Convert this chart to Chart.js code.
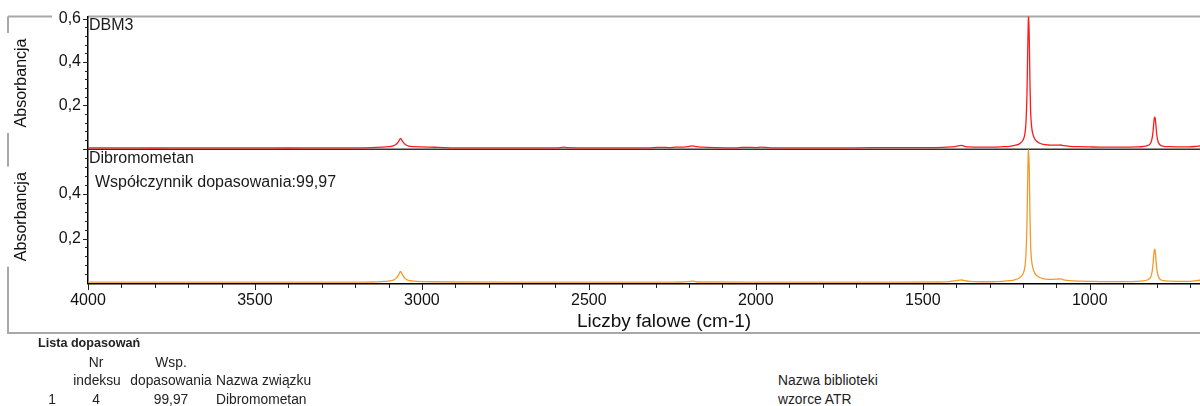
<!DOCTYPE html>
<html lang="pl">
<head>
<meta charset="utf-8">
<title>DBM3 - Dibromometan</title>
<script src="https://cdn.jsdelivr.net/npm/chart.js@4.4.1/dist/chart.umd.min.js"></script>
<style>
  html, body { margin: 0; padding: 0; background: #fff; }
  body { width: 1200px; height: 406px; overflow: hidden; position: relative;
         font-family: "Liberation Sans", Arial, sans-serif; color: #1a1a1a; }
  #chartWidma { position: absolute; left: 0; top: 0; }
  .lbl { position: absolute; font-size: 16px; line-height: 18px; white-space: nowrap; }
  .tab { position: absolute; font-size: 13.8px; line-height: 15px; white-space: nowrap; color: #222; }
  .c { transform: translateX(-50%); }
  .b { font-weight: bold; font-size: 12.6px; }
</style>
</head>
<body>
<canvas id="chartWidma" width="1240" height="340"></canvas>

<div class="lbl" style="left:89px;top:16px">DBM3</div>
<div class="lbl" style="left:89px;top:149px">Dibromometan</div>
<div class="lbl" style="left:95px;top:173px">Współczynnik dopasowania:99,97</div>

<div class="tab b" style="left:38px;top:336px">Lista dopasowań</div>
<div class="tab c" style="left:96px;top:355px">Nr</div>
<div class="tab c" style="left:171px;top:355px">Wsp.</div>
<div class="tab c" style="left:97px;top:373px">indeksu</div>
<div class="tab c" style="left:171px;top:373px">dopasowania</div>
<div class="tab" style="left:216px;top:373px">Nazwa związku</div>
<div class="tab" style="left:778px;top:373px">Nazwa biblioteki</div>
<div class="tab c" style="left:52px;top:392px">1</div>
<div class="tab c" style="left:96px;top:392px">4</div>
<div class="tab c" style="left:171px;top:392px">99,97</div>
<div class="tab" style="left:216px;top:392px">Dibromometan</div>
<div class="tab" style="left:778px;top:392px">wzorce ATR</div>

<script>
// === Dane widma ===
// DBM3 (pomiar)
const wnPomiar = [4000, 3900, 3800, 3700, 3600, 3500, 3400, 3300, 3200, 3150, 3120, 3100, 3088, 3078, 3070, 3064, 3058, 3050, 3040, 3025,
  3000, 2975, 2950, 2900, 2800, 2700, 2600, 2585, 2575, 2565, 2500, 2400, 2320, 2295, 2280, 2260, 2240, 2215, 2200, 2189,
  2178, 2160, 2120, 2060, 2040, 2020, 2000, 1985, 1970, 1950, 1900, 1800, 1700, 1600, 1500, 1440, 1415, 1400, 1390, 1383,
  1375, 1360, 1330, 1290, 1260, 1240, 1225, 1212, 1204, 1198, 1194, 1191, 1188, 1186, 1184, 1183, 1181, 1179, 1177, 1174,
  1170, 1165, 1158, 1150, 1140, 1125, 1110, 1098, 1088, 1078, 1060, 1030, 1000, 950, 900, 860, 840, 828, 820, 815,
  811, 808, 806, 804, 802, 799, 795, 790, 780, 760, 730, 700, 680, 660, 620, 580, 550];
const absPomiar = [0.003, 0.003, 0.002, 0.003, 0.003, 0.003, 0.002, 0.003, 0.003, 0.004, 0.006, 0.008, 0.011, 0.018, 0.032, 0.046, 0.033, 0.018, 0.011, 0.008,
  0.007, 0.006, 0.005, 0.003, 0.003, 0.003, 0.003, 0.004, 0.006, 0.004, 0.003, 0.003, 0.003, 0.005, 0.005, 0.004, 0.006, 0.006, 0.009, 0.012,
  0.008, 0.006, 0.004, 0.003, 0.005, 0.005, 0.004, 0.006, 0.005, 0.003, 0.003, 0.003, 0.003, 0.004, 0.004, 0.005, 0.007, 0.010, 0.013, 0.014,
  0.010, 0.007, 0.006, 0.006, 0.008, 0.010, 0.014, 0.020, 0.030, 0.045, 0.070, 0.120, 0.250, 0.430, 0.590, 0.620, 0.500, 0.300, 0.170, 0.100,
  0.065, 0.045, 0.032, 0.024, 0.019, 0.016, 0.015, 0.015, 0.016, 0.013, 0.010, 0.008, 0.007, 0.006, 0.006, 0.007, 0.009, 0.013, 0.020, 0.035,
  0.070, 0.120, 0.145, 0.140, 0.110, 0.060, 0.030, 0.017, 0.010, 0.008, 0.007, 0.007, 0.010, 0.014, 0.020, 0.025, 0.030];

// Dibromometan (wzorzec z biblioteki)
const wnWzorzec = [4000, 3800, 3600, 3400, 3200, 3150, 3120, 3100, 3088, 3078, 3070, 3064, 3058, 3050, 3040, 3025, 3000, 2960, 2900, 2700,
  2500, 2300, 2220, 2200, 2189, 2178, 2150, 2000, 1800, 1600, 1450, 1420, 1400, 1390, 1383, 1375, 1360, 1330, 1290, 1260,
  1240, 1225, 1212, 1204, 1198, 1194, 1191, 1188, 1186, 1184, 1183, 1181, 1179, 1177, 1174, 1170, 1165, 1158, 1150, 1140,
  1125, 1110, 1098, 1088, 1078, 1060, 1030, 1000, 950, 900, 860, 840, 828, 820, 815, 811, 808, 806, 804, 802,
  799, 795, 790, 780, 760, 730, 700, 680, 660, 620, 580, 550];
const absWzorzec = [0.004, 0.004, 0.004, 0.004, 0.004, 0.005, 0.007, 0.009, 0.012, 0.020, 0.036, 0.052, 0.037, 0.020, 0.012, 0.009, 0.007, 0.006, 0.005, 0.004,
  0.004, 0.004, 0.005, 0.007, 0.009, 0.006, 0.005, 0.004, 0.004, 0.004, 0.005, 0.007, 0.011, 0.013, 0.014, 0.011, 0.008, 0.006, 0.006, 0.008,
  0.011, 0.015, 0.022, 0.032, 0.048, 0.075, 0.130, 0.270, 0.450, 0.590, 0.600, 0.500, 0.300, 0.170, 0.100, 0.066, 0.046, 0.033, 0.025, 0.020,
  0.017, 0.017, 0.018, 0.019, 0.015, 0.011, 0.009, 0.008, 0.007, 0.007, 0.008, 0.010, 0.014, 0.022, 0.038, 0.075, 0.130, 0.152, 0.145, 0.110,
  0.062, 0.032, 0.018, 0.011, 0.009, 0.008, 0.008, 0.011, 0.015, 0.020, 0.025, 0.030];

// === Osie ===
const xTickLabels = [4000, 3500, 3000, 2500, 2000, 1500, 1000];
const xTicks = [];
for (let v = 4000; v >= 600; v -= 100) xTicks.push(v);
const yTicks = [0.04, 0.08, 0.12, 0.16, 0.2, 0.24, 0.28, 0.32, 0.36, 0.4, 0.44, 0.48, 0.52, 0.56, 0.6];
const yTopLabels = [0.2, 0.4, 0.6];
const yBotLabels = [0.2, 0.4];

const FONT = "'Liberation Sans', Arial, sans-serif";
const near = (list, v) => list.some(t => Math.abs(t - v) < 1e-6);
const fmt = v => v.toFixed(1).replace(".", ",");

document.addEventListener("DOMContentLoaded", function () {
  Chart.defaults.font.family = FONT;
  Chart.defaults.font.size = 16;
  Chart.defaults.color = "#111";

  // ramka, przerwy pod opisami osi, linia rozdzielająca i znaczniki osi
  const ramka = {
    id: "ramka",
    beforeDraw(chart) {
      const { ctx, chartArea, scales } = chart;
      ctx.save();
      ctx.fillStyle = "#fff";
      ctx.fillRect(0, 0, chart.width, chart.height);
      ctx.strokeStyle = "#a8a8a8";
      ctx.lineWidth = 2;
      ctx.beginPath();
      ctx.moveTo(8, chartArea.top);
      ctx.lineTo(52, chartArea.top);
      ctx.moveTo(chartArea.left, chartArea.top);
      ctx.lineTo(chart.width, chartArea.top);
      ctx.moveTo(8, chartArea.top);
      ctx.lineTo(8, 333);
      ctx.lineTo(chart.width, 333);
      ctx.stroke();
      ctx.fillStyle = "#fff";
      ["yTop", "yBot"].forEach(id => {
        const s = scales[id];
        const mid = (s.top + s.bottom) / 2;
        ctx.fillRect(3, mid - 50, 30, 100);
      });
      ctx.restore();
    },
    beforeDatasetsDraw(chart) {
      const { ctx, chartArea, scales } = chart;
      ctx.save();
      ctx.strokeStyle = "#333";
      ctx.lineWidth = 1.5;
      ctx.beginPath();
      ctx.moveTo(chartArea.left, scales.yTop.bottom);
      ctx.lineTo(chartArea.right, scales.yTop.bottom);
      ctx.stroke();

      ctx.strokeStyle = "#222";
      ctx.lineWidth = 1;
      ctx.beginPath();
      const x = scales.x;
      x.ticks.forEach(t => {
        const px = Math.round(x.getPixelForValue(t.value)) + 0.5;
        const len = near(xTickLabels, t.value) ? 6 : 4;
        ctx.moveTo(px, x.top);
        ctx.lineTo(px, x.top + len);
      });
      [scales.yTop, scales.yBot].forEach(s => {
        s.ticks.forEach(t => {
          const py = Math.round(s.getPixelForValue(t.value)) + 0.5;
          const len = near([0.2, 0.4, 0.6], t.value) ? 5 : 3;
          ctx.moveTo(s.right, py);
          ctx.lineTo(s.right - len, py);
        });
      });
      ctx.stroke();
      ctx.restore();
    }
  };

  const osY = (labels, min, max, weight) => ({
    type: "linear",
    position: "left",
    stack: "panele",
    stackWeight: weight,
    min: min,
    max: max,
    afterBuildTicks: s => { s.ticks = yTicks.map(v => ({ value: v })); },
    afterFit: s => { s.width = 80; },
    grid: { display: false, drawTicks: false },
    border: { color: "#000", width: 1.5 },
    ticks: {
      padding: 7,
      autoSkip: false,
      callback: v => (near(labels, v) ? fmt(v) : "")
    },
    title: { display: true, text: "Absorbancja", padding: { top: 4, bottom: 0 } }
  });

  const ctxWidmo = document.getElementById("chartWidma");
  new Chart(ctxWidmo, {
    type: "line",
    data: {
      datasets: [
        {
          label: "DBM3",
          data: wnPomiar.map((w, i) => ({ x: w, y: absPomiar[i] })),
          yAxisID: "yTop",
          borderColor: "#ff1a1a",
          borderWidth: 1.3,
          pointRadius: 0,
          cubicInterpolationMode: "monotone",
          fill: false
        },
        {
          label: "Dibromometan",
          data: wnWzorzec.map((w, i) => ({ x: w, y: absWzorzec[i] })),
          yAxisID: "yBot",
          borderColor: "#f39a2c",
          borderWidth: 1.3,
          pointRadius: 0,
          cubicInterpolationMode: "monotone",
          fill: false
        }
      ]
    },
    options: {
      responsive: false,
      animation: false,
      layout: { padding: { left: 8, top: 14, right: 0, bottom: 6 } },
      plugins: {
        legend: { display: false },
        tooltip: { enabled: false }
      },
      scales: {
        x: {
          type: "linear",
          reverse: true,
          min: 550,
          max: 4000,
          afterBuildTicks: s => { s.ticks = xTicks.map(v => ({ value: v })); },
          afterFit: s => { s.height = 50; },
          grid: { display: false, drawTicks: false },
          border: { color: "#000", width: 1.5 },
          ticks: {
            autoSkip: false,
            maxRotation: 0,
            padding: 7,
            callback: v => (near(xTickLabels, v) ? String(v) : "")
          },
          title: {
            display: true,
            text: "Liczby falowe (cm-1)",
            font: { size: 19 },
            padding: { top: 0, bottom: 1 }
          }
        },
        // kolejność: dolny panel najpierw, wtedy górny ląduje na górze stosu
        yBot: osY(yBotLabels, -0.004, 0.6, 136),
        yTop: osY(yTopLabels, -0.004, 0.61, 134)
      }
    },
    plugins: [ramka]
  });
});
</script>
</body>
</html>
